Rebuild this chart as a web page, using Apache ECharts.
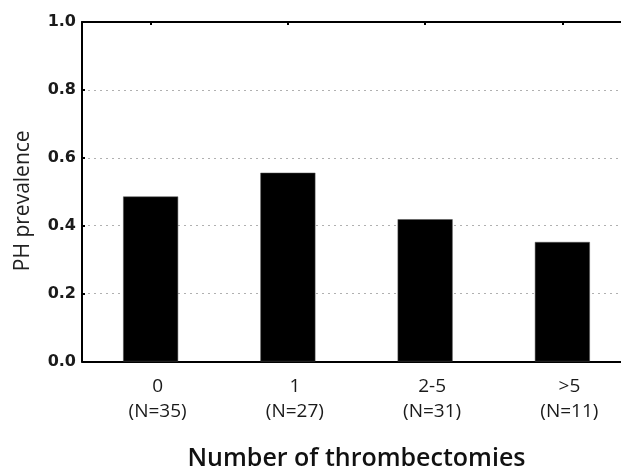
<!DOCTYPE html>
<html>
<head>
<meta charset="utf-8">
<script src="https://cdn.jsdelivr.net/npm/echarts@6/dist/echarts.min.js"></script>
<style>
html,body{margin:0;padding:0;background:#fff;overflow:hidden;}
#chart{width:621px;height:471px;}
</style>
</head>
<body>
<div id="chart"></div>
<script>
var categories = ['0', '1', '2-5', '>5'];
var sampleSizes = [35, 27, 31, 11];
var prevalence = [0.486, 0.556, 0.419, 0.352];
var yTicks = [0, 0.2, 0.4, 0.6, 0.8, 1.0];

var labels = categories.map(function (c, i) { return c + '\n(N=' + sampleSizes[i] + ')'; });

var chart = echarts.init(document.getElementById('chart'), null, {renderer: 'canvas'});
chart.setOption({
  animation: false,
  backgroundColor: '#fff',
  grid: {left: 82, top: 22, width: 549, height: 339.5, containLabel: false, outerBoundsMode: 'none'},
  xAxis: [{
    type: 'category',
    data: labels,
    position: 'bottom',
    boundaryGap: true,
    axisLine: {show: true, lineStyle: {color: '#000', width: 2}},
    axisTick: {show: false},
    axisLabel: {
      color: '#1a1a1a', fontFamily: 'Open Sans', fontSize: 19, lineHeight: 25,
      margin: 13, padding: [0, 0, 0, 14], interval: 0
    },
    name: 'Number of thrombectomies',
    nameLocation: 'middle',
    nameGap: 85,
    nameTextStyle: {color: '#111', fontFamily: 'Open Sans', fontSize: 25, fontWeight: 600}
  }, {
    type: 'category',
    data: labels,
    position: 'top',
    boundaryGap: true,
    axisLine: {show: true, lineStyle: {color: '#000', width: 2}},
    axisTick: {show: true, inside: true, alignWithLabel: true, length: 3, lineStyle: {color: '#000', width: 2}},
    axisLabel: {show: false}
  }],
  yAxis: {
    type: 'value',
    min: yTicks[0],
    max: yTicks[yTicks.length - 1],
    interval: 0.2,
    axisLine: {show: true, lineStyle: {color: '#000', width: 2}},
    axisTick: {show: true, inside: true, length: 3, lineStyle: {color: '#000', width: 2}},
    axisLabel: {
      color: '#1a1a1a', fontFamily: 'DejaVu Sans', fontWeight: 'bold', fontSize: 16, margin: 6,
      formatter: function (v) { return v.toFixed(1); }
    },
    splitLine: {show: true, lineStyle: {color: '#b0b0b0', width: 1, type: [2, 4]}},
    name: 'PH prevalence',
    nameLocation: 'middle',
    nameGap: 48,
    nameRotate: 90,
    nameTextStyle: {color: '#222', fontFamily: 'Open Sans', fontSize: 21, padding: [0, 18, 0, 0]}
  },
  series: [{
    type: 'bar',
    data: prevalence,
    barWidth: 55,
    itemStyle: {color: '#000', borderColor: '#555', borderWidth: 0.5}
  }]
});
</script>
</body>
</html>
